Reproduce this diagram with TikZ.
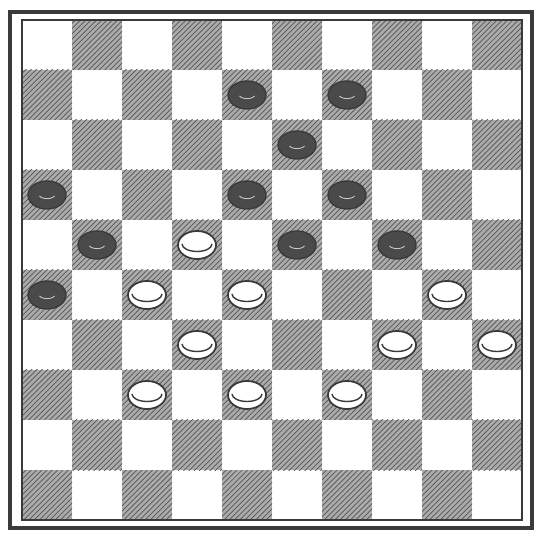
\documentclass[tikz,border=0pt]{standalone}
\usepackage{tikz}
\usetikzlibrary{patterns}
\definecolor{BoardDark}{HTML}{ABABAB}
\definecolor{BoardLine}{HTML}{3A3A3A}
\definecolor{HatchLine}{HTML}{555555}
\definecolor{ManBlack}{HTML}{4A4A4A}

\begin{document}
\begin{tikzpicture}[
    darksq/.style={fill=BoardDark, draw=none},
    hatch/.style={pattern=north east lines, pattern color=HatchLine},
    blackman/.style={fill=ManBlack, draw=BoardLine, line width=0.8pt},
    whiteman/.style={fill=white, draw=BoardLine, line width=1pt}
  ]
    \useasboundingbox (-0.44,-0.26) rectangle (10.28,10.4);

    %% Squares
    \foreach \r in {0,...,9}{
      \foreach \c in {0,...,9}{
        \pgfmathtruncatemacro{\odd}{mod(\r+\c,2)}
        \ifnum\odd=1
          \fill[darksq] (\c,9-\r) rectangle ++(1,1);
          \fill[hatch] (\c,9-\r) rectangle ++(1,1);
        \fi
      }
    }

    %% Frames
    \draw[BoardLine, line width=0.6pt] (0,0) rectangle (10,10);
    \draw[BoardLine, line width=1.8pt] (-0.24,-0.16) rectangle (10.2,10.16);

    %% Black men (row, column)
    \foreach \r/\c in {1/4, 1/6, 2/5, 3/0, 3/4, 3/6, 4/1, 4/5, 4/7, 5/0}{
      \filldraw[blackman] (\c+0.5,9.5-\r) ellipse (0.38 and 0.28);
      \draw[white!70!ManBlack, line width=0.5pt] (\c+0.35,9.48-\r) arc (200:340:0.16 and 0.08);
    }

    %% White men (row, column)
    \foreach \r/\c in {4/3, 5/2, 5/4, 5/8, 6/3, 6/7, 6/9, 7/2, 7/4, 7/6}{
      \filldraw[whiteman] (\c+0.5,9.5-\r) ellipse (0.38 and 0.28);
      \draw[BoardLine, line width=0.8pt] (\c+0.2,9.52-\r) arc (180:360:0.3 and 0.15);
    }
  \end{tikzpicture}
\end{document}
